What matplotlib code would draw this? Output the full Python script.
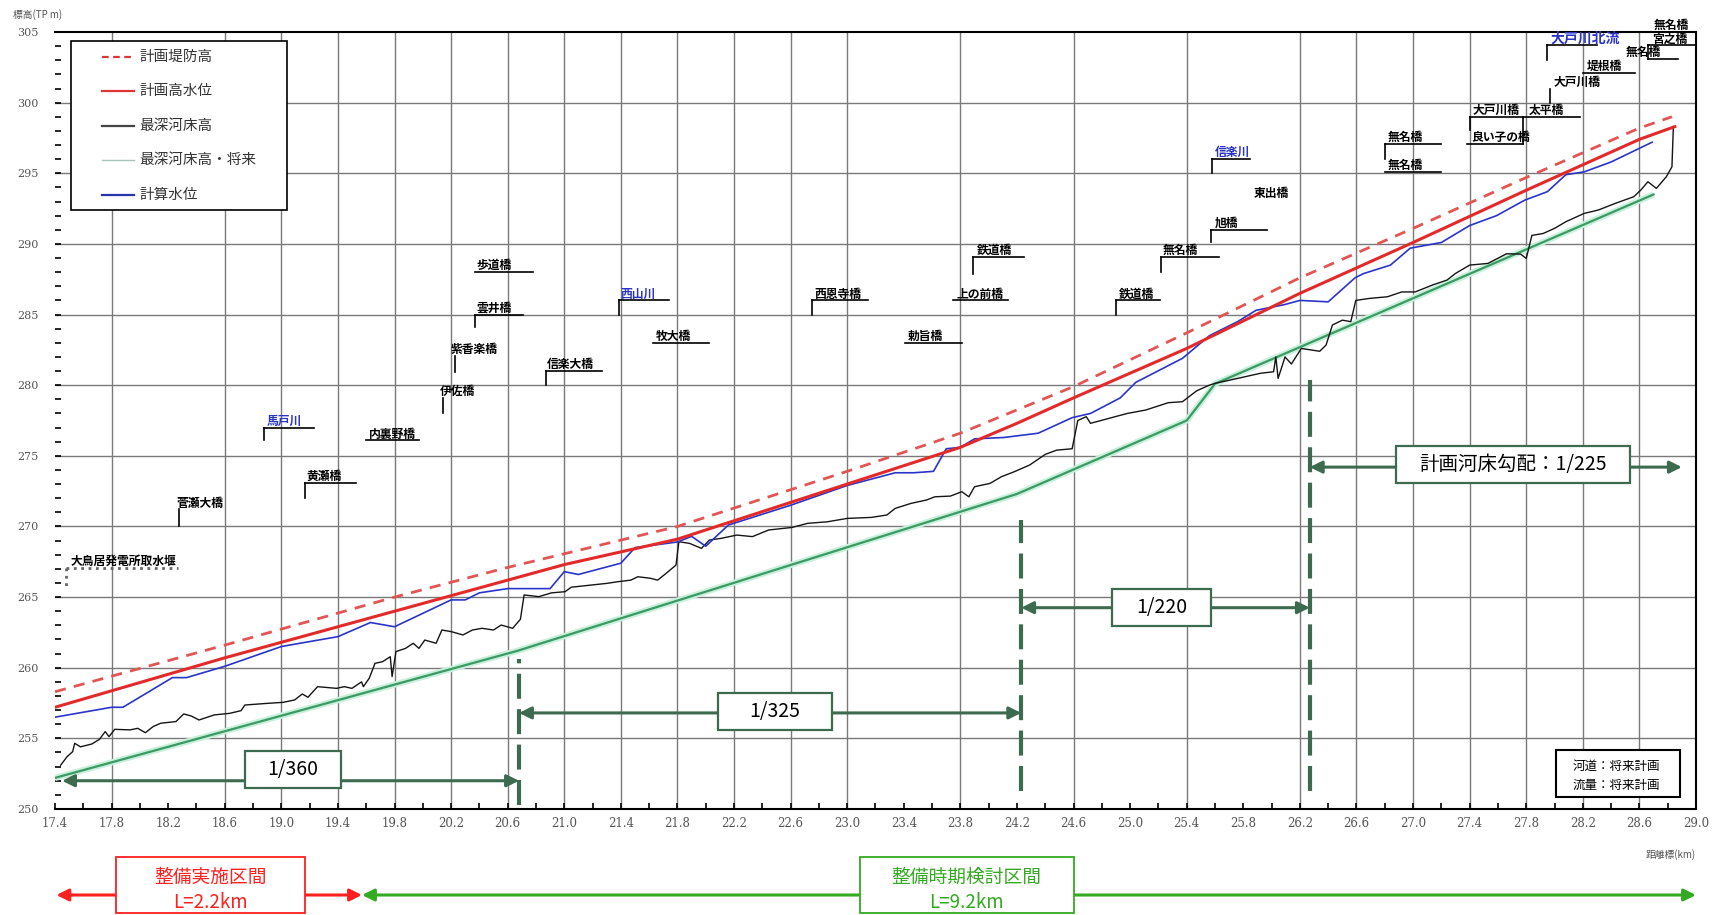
import matplotlib
matplotlib.use("Agg")
import matplotlib.pyplot as plt
from matplotlib.patches import Rectangle
import numpy as np

plt.rcParams['font.family'] = ['Noto Sans CJK JP', 'DejaVu Sans']

# 計画堤防高
levee_km = [17.4, 18.6, 19.8, 20.6, 21.8, 23.0, 23.8, 24.6, 25.4, 26.2, 27.0, 27.8, 28.6, 28.83]
levee_el = [258.3, 261.6, 265.0, 267.1, 270.0, 273.9, 276.6, 279.9, 283.7, 287.6, 291.1, 294.7, 298.2, 299.0]

# 計画高水位
hwl_km = [17.4, 18.6, 19.8, 20.6, 21.0, 21.8, 22.6, 23.0, 23.8, 24.2, 24.6, 25.4, 26.2, 27.0, 27.8, 28.6, 28.85]
hwl_el = [257.2, 260.7, 264.0, 266.2, 267.3, 269.1, 271.7, 273.0, 275.6, 277.3, 279.1, 282.6, 286.5, 290.1, 293.8, 297.4, 298.3]

# 計算水位
calc_km = [17.4, 17.8, 17.88, 18.23, 18.33, 18.6, 19.0, 19.4, 19.63, 19.8, 20.2, 20.3, 20.4, 20.6,
           20.9, 21.0, 21.1, 21.4, 21.5, 21.8, 21.9, 22.0, 22.16, 22.6, 23.0, 23.34, 23.47, 23.61,
           23.7, 23.8, 23.9, 24.11, 24.35, 24.59, 24.72, 24.93, 25.04, 25.37, 25.56, 25.76, 25.89,
           26.09, 26.2, 26.4, 26.59, 26.65, 26.84, 26.98, 27.2, 27.4, 27.59, 27.79, 27.95, 28.08,
           28.21, 28.4, 28.69]
calc_el = [256.5, 257.2, 257.2, 259.3, 259.3, 260.1, 261.5, 262.2, 263.2, 262.9, 264.8, 264.8, 265.3, 265.6,
           265.6, 266.8, 266.6, 267.4, 268.5, 268.9, 269.3, 268.6, 270.1, 271.5, 272.9, 273.8, 273.8, 273.9,
           275.5, 275.6, 276.2, 276.3, 276.6, 277.7, 278.0, 279.1, 280.2, 281.9, 283.5, 284.5, 285.3,
           285.7, 286.0, 285.9, 287.6, 287.9, 288.5, 289.7, 290.1, 291.3, 292.0, 293.1, 293.7, 294.9,
           295.1, 295.8, 297.2]

# 最深河床高
bed_km = [17.44, 17.485, 17.525, 17.539, 17.58, 17.66, 17.714, 17.755, 17.782, 17.822, 17.93, 17.985,
          18.039, 18.093, 18.147, 18.255, 18.31, 18.364, 18.418, 18.526, 18.634, 18.715, 18.742, 18.904,
          19.013, 19.094, 19.148, 19.188, 19.256, 19.391, 19.445, 19.499, 19.567, 19.58, 19.621, 19.662,
          19.716, 19.77, 19.783, 19.81, 19.878, 19.932, 19.973, 20.014, 20.094, 20.135, 20.203, 20.284,
          20.351, 20.419, 20.5, 20.554, 20.635, 20.69, 20.716, 20.82, 20.91, 21.005, 21.05, 21.19, 21.3,
          21.38, 21.47, 21.52, 21.61, 21.66, 21.72, 21.79, 21.81, 21.886, 21.97, 22.026, 22.11, 22.22,
          22.33, 22.445, 22.61, 22.72, 22.86, 23.0, 23.17, 23.28, 23.34, 23.45, 23.56, 23.62, 23.73,
          23.81, 23.86, 23.9, 24.01, 24.09, 24.18, 24.29, 24.40, 24.48, 24.59, 24.63, 24.69, 24.72,
          24.85, 24.98, 25.11, 25.27, 25.37, 25.47, 25.56, 25.6, 25.76, 25.92, 26.014, 26.03, 26.046,
          26.095, 26.14, 26.21, 26.34, 26.385, 26.43, 26.5, 26.56, 26.595, 26.69, 26.82, 26.92, 27.015,
          27.14, 27.24, 27.30, 27.40, 27.53, 27.66, 27.76, 27.8, 27.84, 27.92, 28.0, 28.08, 28.21,
          28.31, 28.43, 28.56, 28.61, 28.66, 28.72, 28.79, 28.83, 28.84]
bed_el = [253.1, 253.7, 254.06, 254.65, 254.4, 254.6, 254.93, 255.48, 255.12, 255.64, 255.6, 255.71,
          255.4, 255.83, 256.07, 256.19, 256.73, 256.58, 256.3, 256.66, 256.77, 256.96, 257.36, 257.48,
          257.55, 257.72, 258.14, 257.91, 258.66, 258.54, 258.66, 258.54, 259.0, 258.66, 259.25, 260.31,
          260.43, 260.78, 259.37, 261.14, 261.37, 261.73, 261.37, 261.96, 261.73, 262.67, 262.55, 262.32,
          262.67, 262.79, 262.67, 263.02, 262.79, 263.43, 265.15, 265.03, 265.3, 265.38, 265.7, 265.85, 265.97,
          266.09, 266.2, 266.44, 266.33, 266.2, 266.68, 267.27, 268.92, 268.8, 268.45, 269.04, 269.16, 269.39,
          269.28, 269.75, 269.93, 270.22, 270.33, 270.57, 270.64, 270.81, 271.28, 271.63, 271.87, 272.1, 272.15,
          272.46, 272.1, 272.81, 273.05, 273.52, 273.87, 274.35, 275.1, 275.4, 275.5, 277.5, 277.77, 277.3,
          277.65, 278.0, 278.24, 278.76, 278.83, 279.6, 280.0, 280.13, 280.48, 280.84, 280.95, 282.0, 280.48,
          282.0, 281.5, 282.6, 282.4, 282.84, 284.26, 284.6, 284.5, 286.0, 286.14, 286.26, 286.6, 286.6,
          287.1, 287.44, 287.91, 288.5, 288.62, 289.3, 289.28, 288.97, 290.6, 290.74, 291.1, 291.57, 292.16,
          292.4, 292.87, 293.34, 293.81, 294.4, 293.93, 294.75, 295.46, 298.3]

# 最深河床高・将来
future_km = [17.4, 20.67, 24.2, 25.4, 25.6, 28.7]
future_el = [252.2, 261.2, 272.3, 277.5, 280.1, 293.5]

# 勾配区間
slope_labels = ['1/360', '1/325', '1/220', '計画河床勾配：1/225']
slope_start = [17.45, 20.68, 24.23, 26.27]
slope_end = [20.68, 24.23, 26.27, 28.9]
slope_y = [252.0, 256.8, 264.25, 274.2]
slope_box_x0 = [18.74, 22.09, 24.875, 26.88]
slope_box_x1 = [19.42, 22.89, 25.57, 28.53]
slope_box_y = [252.8, 256.9, 264.25, 274.4]

divider_km = [20.68, 24.23, 26.27]
divider_top = [260.6, 270.45, 280.4]
divider_bottom = [250.3, 251.3, 251.3]

# 橋・支川
bridge_names = ['大鳥居発電所取水堰', '菅瀬大橋', '馬戸川', '黄瀬橋', '内裏野橋', '伊佐橋', '紫香楽橋',
                '雲井橋', '歩道橋', '信楽大橋', '西山川', '牧大橋', '西恩寺橋', '勅旨橋', '上の前橋',
                '鉄道橋', '鉄道橋', '無名橋', '旭橋', '東出橋', '信楽川', '無名橋', '無名橋', '大戸川橋',
                '良い子の橋', '太平橋', '大戸川橋', '堤根橋', '大戸川北流', '無名橋', '宮之橋', '無名橋']
bridge_km = [17.48, 18.28, 18.88, 19.17, 19.6, 20.14, 20.23, 20.37, 20.37, 20.87, 21.39, 21.63, 22.75,
             23.41, 23.75, 23.89, 24.9, 25.22, 25.57, 25.87, 25.58, 26.8, 26.8, 27.4, 27.38, 27.78,
             27.97, 28.2, 27.95, 28.66, 28.66, 28.68]
bridge_km_end = [18.27, None, 19.23, 19.53, 19.97, None, None, 20.71, 20.78, 21.27, 21.74, 22.02, 23.15,
                 23.81, 24.14, 24.25, 25.21, 25.63, 25.97, None, 25.85, 27.2, 27.2, 27.78, 27.78, 28.18,
                 None, 28.57, 28.3, 28.87, 29.0, None]
bridge_elev = [267.05, 271.2, 277.0, 273.1, 276.1, 279.1, 282.1, 285.0, 288.0, 281.0, 286.0, 283.0, 286.0,
               283.0, 286.0, 289.1, 286.0, 289.1, 291.0, 293.1, 296.0, 297.1, 295.1, 299.0, 297.06, 299.0,
               301.0, 302.1, 304.07, 303.1, 304.07, 305.0]
bridge_drop = [265.7, 270.0, 276.1, 272.0, None, 278.0, 280.9, 284.1, None, 280.0, 285.0, None, 285.0,
               None, None, 287.9, 285.0, 288.0, 290.1, None, 295.0, 296.0, None, 298.05, None, 297.06,
               299.96, None, 303.0, None, 303.1, None]
bridge_text_km = [17.51, 18.26, 18.9, 19.18, 19.62, 20.12, 20.2, 20.38, 20.38, 20.88, 21.4, 21.65, 22.77,
                  23.43, 23.77, 23.92, 24.92, 25.23, 25.6, 25.87, 25.6, 26.82, 26.82, 27.42, 27.41, 27.82,
                  27.99, 28.23, 27.97, 28.5, 28.69, 28.70]
tributaries = ['馬戸川', '西山川', '信楽川', '大戸川北流']

grid_km = [17.8, 18.6, 19.0, 19.4, 19.8, 20.2, 20.6, 21.0, 21.4, 21.8, 22.2, 22.6, 23.0, 23.8,
           24.6, 25.4, 26.2, 26.6, 27.0, 27.4, 27.8, 28.2, 28.6]

# 凡例
legend_labels = ['計画堤防高', '計画高水位', '最深河床高', '最深河床高・将来', '計算水位']
legend_colors = ['#e03535', '#e03535', '#444444', '#a9c4b8', '#2a34a8']
legend_styles = [(0, (3, 2)), '-', '-', '-', '-']

fig = plt.figure(figsize=(17.16, 9.15), dpi=100)
ax = fig.add_axes([0.03205, 0.11585, 0.95629, 0.84918])
ax.set_xlim(17.4, 29.0)
ax.set_ylim(250, 305)

# 格子
for g in grid_km:
    ax.axvline(g, color='#7a7a7a', lw=1.0, zorder=1)
for g in range(255, 305, 5):
    ax.axhline(g, color='#7a7a7a', lw=1.0, zorder=1)

green = '#3d6b4f'

# 縦断線
ax.plot(future_km, future_el, color='#c8f0dc', lw=4.5, zorder=2, solid_capstyle='butt')
ax.plot(future_km, future_el, color='#3a9a62', lw=1.6, zorder=3)
ax.plot(bed_km, bed_el, color='#151515', lw=1.0, zorder=4)
ax.plot(calc_km, calc_el, color='#2a34c8', lw=1.2, zorder=5)
ax.plot(hwl_km, hwl_el, color='#e32a2a', lw=2.2, zorder=6)
ax.plot(levee_km, levee_el, color='#e25555', lw=2.0, ls=(0, (4, 3)), zorder=6)

# 勾配の区切り
for k, t, b in zip(divider_km, divider_top, divider_bottom):
    ax.plot([k, k], [b, t], color=green, lw=3.0, ls=(0, (6, 2.5)), zorder=7)

for lab, x0, x1, y, bx0, bx1, by in zip(slope_labels, slope_start, slope_end, slope_y,
                                        slope_box_x0, slope_box_x1, slope_box_y):
    ax.annotate('', xy=(x1, y), xytext=(x0, y),
                arrowprops=dict(arrowstyle='<|-|>', color=green, lw=2.2, mutation_scale=18,
                                shrinkA=0, shrinkB=0), zorder=8)
    ax.add_patch(Rectangle((bx0, by - 1.33), bx1 - bx0, 2.66, fc='white', ec=green, lw=1.6, zorder=9))
    ax.text((bx0 + bx1) / 2, by, lab, ha='center', va='center', fontsize=14, color='black', zorder=10)

# 橋・支川の名称
for name, k, ke, el, dr, tk in zip(bridge_names, bridge_km, bridge_km_end, bridge_elev,
                                   bridge_drop, bridge_text_km):
    dotted = name == '大鳥居発電所取水堰'
    lc = '#666666' if dotted else 'black'
    ls = ':' if dotted else '-'
    lw = 2.0 if dotted else 1.2
    if ke is not None:
        ax.plot([k, ke], [el, el], color=lc, ls=ls, lw=lw, zorder=5, clip_on=False)
    if dr is not None:
        ax.plot([k, k], [el, dr], color=lc, ls=ls, lw=lw, zorder=5, clip_on=False)
    if name == '大戸川北流':
        ax.text(tk, el + 0.2, name, fontsize=10, color='#2a34c8', fontweight='bold',
                ha='left', va='baseline', clip_on=False)
    else:
        c = '#2a34c8' if name in tributaries else 'black'
        ax.text(tk, el + 0.2, name, fontsize=8.5, color=c, fontweight='bold',
                ha='left', va='baseline', clip_on=False)

# 河道・流量
ax.add_patch(Rectangle((28.01, 250.85), 0.88, 3.35, fc='white', ec='black', lw=1.5, zorder=9))
ax.text(28.44, 253.0, '河道：将来計画', ha='center', va='center', fontsize=9, zorder=10)
ax.text(28.44, 251.7, '流量：将来計画', ha='center', va='center', fontsize=9, zorder=10)

# 凡例（枠と線を軸座標で配置）
ax.add_patch(Rectangle((0.00975, 0.771), 0.1317, 0.218, transform=ax.transAxes, fc='white',
                       ec='black', lw=1.2, zorder=20))
for i, (lab, c, ls) in enumerate(zip(legend_labels, legend_colors, legend_styles)):
    yy = 0.968 - i * 0.0443
    lw = 1.0 if i == 3 else 1.6
    ax.plot([0.0287, 0.0481], [yy, yy], transform=ax.transAxes, color=c, ls=ls, lw=lw, zorder=21)
    ax.text(0.0512, yy, lab, transform=ax.transAxes, fontsize=10.5, color='#333333',
            ha='left', va='center', zorder=21)

# 軸
ax.set_xticks(np.round(np.arange(17.4, 29.01, 0.4), 1))
ax.set_xticks(np.round(np.arange(17.6, 29.0, 0.4), 1), minor=True)
ax.set_xticklabels(['%.1f' % v for v in np.arange(17.4, 29.01, 0.4)])
ax.set_yticks(range(250, 306, 5))
ax.set_yticks(range(250, 306, 1), minor=True)
ax.tick_params(axis='both', which='both', direction='in', length=4, width=1.2, color='black')
ax.tick_params(axis='x', which='major', pad=6, labelsize=8.5, labelcolor='#555555')
ax.tick_params(axis='y', which='major', pad=12, labelsize=8, labelcolor='#555555')
for lab in ax.get_xticklabels() + ax.get_yticklabels():
    lab.set_family('DejaVu Serif')
ax.spines['left'].set_visible(False)
for s in ['top', 'right', 'bottom']:
    ax.spines[s].set_linewidth(1.5)

fig.text(0.0076, 0.984, '標高(TP m)', fontsize=7, color='#555555', ha='left', va='center')
fig.text(0.988, 0.0656, '距離標(km)', fontsize=7, color='#555555', ha='right', va='center')

# 整備区間
trans = ax.get_xaxis_transform()
sections = ['整備実施区間', '整備時期検討区間']
section_len = ['L=2.2km', 'L=9.2km']
section_start = [17.41, 19.57]
section_end = [19.57, 29.0]
section_box_x0 = [17.83, 23.09]
section_box_x1 = [19.17, 24.6]
section_colors = ['#ff2020', '#33aa22']
for name, ln, x0, x1, bx0, bx1, c in zip(sections, section_len, section_start, section_end,
                                         section_box_x0, section_box_x1, section_colors):
    ax.annotate('', xy=(x1, -0.1107), xytext=(x0, -0.1107), xycoords=trans, textcoords=trans,
                arrowprops=dict(arrowstyle='<|-|>', color=c, lw=2.2, mutation_scale=18,
                                shrinkA=0, shrinkB=0), annotation_clip=False)
    ax.add_patch(Rectangle((bx0, -0.1338), bx1 - bx0, 0.072, transform=trans, fc='white', ec=c,
                           lw=1.3, clip_on=False, zorder=10))
    ax.text((bx0 + bx1) / 2, -0.0875, name, transform=trans, ha='center', va='center',
            fontsize=13.5, color=c, zorder=11, clip_on=False)
    ax.text((bx0 + bx1) / 2, -0.1197, ln, transform=trans, ha='center', va='center',
            fontsize=13.5, color=c, zorder=11, clip_on=False)

fig.savefig('out.png', dpi=100)
